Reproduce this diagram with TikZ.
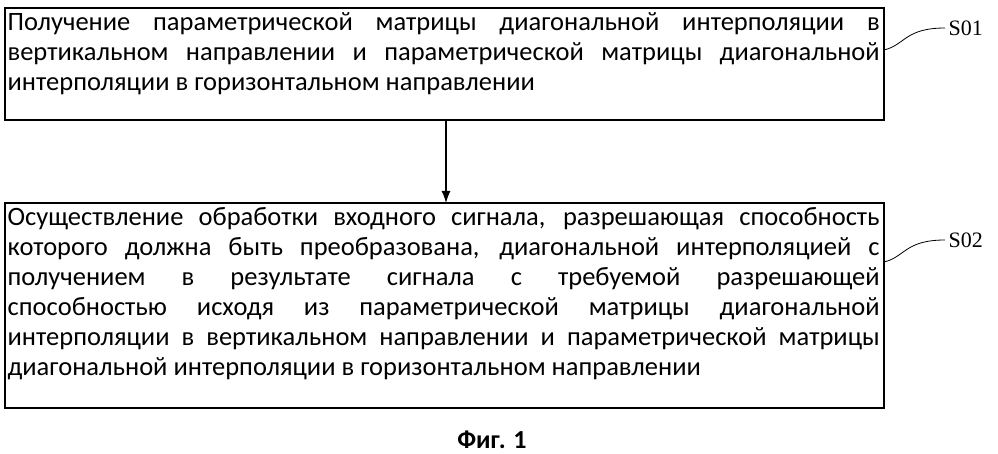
\documentclass[tikz,border=0pt]{standalone}
\usepackage{fontspec}
\usetikzlibrary{arrows.meta}
\setmainfont{Carlito}
\newfontfamily\serifs{Liberation Serif}
\tikzset{box/.style={draw,line width=1.2pt,anchor=north west,text width=872pt,inner sep=2pt,align=justify,font=\fontsize{26.5}{30}\selectfont},
lab/.style={font=\serifs\fontsize{22}{24}\selectfont,anchor=west},
lead/.style={line width=0.8pt}}
\begin{document}
\begin{tikzpicture}[x=1pt,y=-1pt]
\useasboundingbox (0,0) rectangle (998,454);
\draw[line width=1.2pt] (5,8) rectangle (884,120);
\node[box,draw=none] (a) at (5,10) {\hyphenpenalty=10000 Получение параметрической матрицы диагональной интерполяции в\linebreak вертикальном направлении и параметрической матрицы диагональной\linebreak интерполяции в горизонтальном направлении};
\draw[line width=1.2pt] (5,203) rectangle (884,408);
\node[box,draw=none] (b) at (5,205) {\hyphenpenalty=10000 Осуществление обработки входного сигнала, разрешающая способность\linebreak которого должна быть преобразована, диагональной интерполяцией с\linebreak получением в результате сигнала с требуемой разрешающей\linebreak способностью исходя из параметрической матрицы диагональной\linebreak интерполяции в вертикальном направлении и параметрической матрицы\linebreak диагональной интерполяции в горизонтальном направлении};
\coordinate (t1) at (446,120);
\coordinate (t2) at (446,203);
\draw[line width=1.2pt,-{Latex[length=12pt,width=9pt]}] (t1) -- (t2);
\node[lab] (s1) at (945,28) {S01};
\node[lab] (s2) at (945,240) {S02};
\coordinate (c1) at (884,50);
\coordinate (c2) at (884,262);
\draw[lead] (c1) .. controls (905,45) and (905,28) .. (s1.west);
\draw[lead] (c2) .. controls (905,257) and (905,240) .. (s2.west);
\node[font=\bfseries\fontsize{26}{28}\selectfont] (f) at (492,440) {Фиг. 1};
\end{tikzpicture}
\end{document}
